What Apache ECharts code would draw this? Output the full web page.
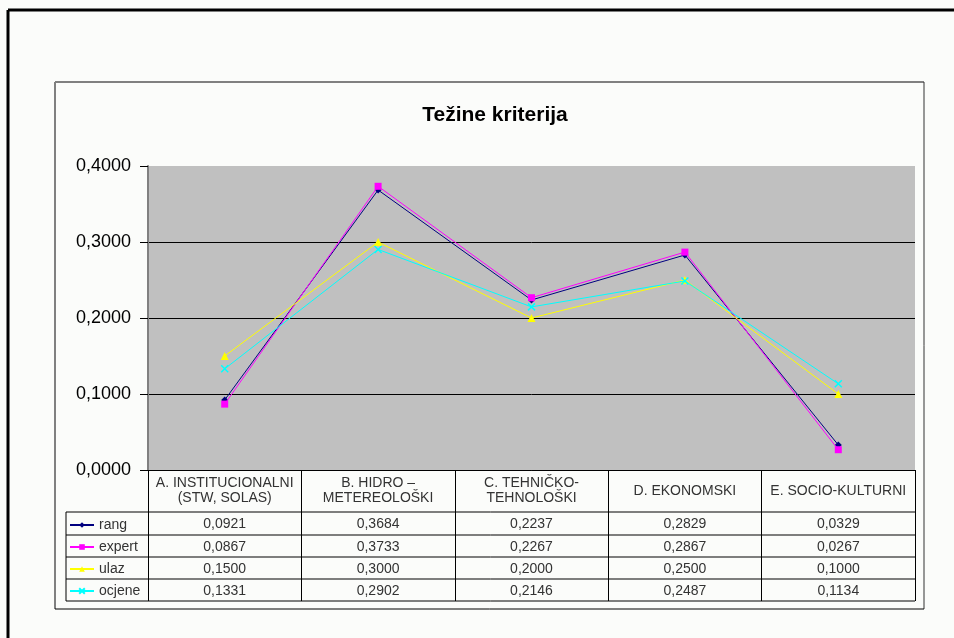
<!DOCTYPE html>
<html>
<head>
<meta charset="utf-8">
<script src="https://cdn.jsdelivr.net/npm/echarts@6/dist/echarts.min.js"></script>
<style>
  html, body { margin: 0; padding: 0; background: #fbfcfa; }
  #chart { width: 954px; height: 638px; }
</style>
</head>
<body>
<div id="chart"></div>
<script>
// kategorije (zaglavlje tablice)
const categories = [
  "A. INSTITUCIONALNI\n(STW, SOLAS)",
  "B. HIDRO –\nMETEREOLOŠKI",
  "C. TEHNIČKO-\nTEHNOLOŠKI",
  "D. EKONOMSKI",
  "E. SOCIO-KULTURNI"
];
const seriesNames = ["rang", "expert", "ulaz", "ocjene"];
const rang = [0.0921, 0.3684, 0.2237, 0.2829, 0.0329];
const expert = [0.0867, 0.3733, 0.2267, 0.2867, 0.0267];
const ulaz = [0.1500, 0.3000, 0.2000, 0.2500, 0.1000];
const ocjene = [0.1331, 0.2902, 0.2146, 0.2487, 0.1134];
const yTicks = [0, 0.1, 0.2, 0.3, 0.4];

const values = [rang, expert, ulaz, ocjene];
const colors = ["#000080", "#ff00ff", "#ffff00", "#00ffff"];
const symbols = ["diamond", "rect", "triangle", "path://M0,0L10,10M10,0L0,10"];
const symbolSizes = [7, 7, 8, 7];

// zarez kao decimalni separator
function fmt(v) {
  return v.toFixed(4).replace(".", ",");
}

// geometrija
const G = { left: 148, top: 166, right: 915, bottom: 470 };
const rowTops = [512, 535, 557, 579, 601];
const keyLeft = 66;
const font = "Liberation Sans, Arial, sans-serif";

let chart = echarts.init(document.getElementById("chart"));

// osi za redove tablice (vrijednosti)
let rowAxes = values.map(function(arr, i) {
  let center = (rowTops[i] + rowTops[i + 1]) / 2;
  return {
    type: "category",
    gridIndex: 0,
    position: "bottom",
    offset: center - G.bottom + 1,
    data: arr.map(fmt),
    axisLine: { show: false },
    axisTick: { show: false },
    splitLine: { show: false },
    axisLabel: {
      interval: 0,
      margin: 0,
      verticalAlign: "middle",
      color: "#333",
      fontSize: 14,
      fontFamily: font
    }
  };
});

// linije tablice
let tableLines = [];
for (let i = 0; i < rowTops.length; i++) {
  tableLines.push({
    type: "line",
    shape: { x1: keyLeft, y1: rowTops[i], x2: G.right, y2: rowTops[i] },
    style: { stroke: "#000", lineWidth: 1 },
    z: 10
  });
}
tableLines.push({
  type: "line",
  shape: { x1: keyLeft, y1: rowTops[0], x2: keyLeft, y2: rowTops[rowTops.length - 1] },
  style: { stroke: "#000", lineWidth: 1 },
  z: 10
});

let option = {
  backgroundColor: "#fbfcfa",
  animation: false,
  title: {
    text: "Težine kriterija",
    left: 490,
    top: 100,
    textAlign: "center",
    textStyle: {
      fontSize: 21,
      fontWeight: "bold",
      color: "#000",
      fontFamily: font
    }
  },
  legend: {
    orient: "vertical",
    left: 64,
    top: 513,
    itemWidth: 24,
    itemHeight: 7,
    itemGap: 8,
    data: seriesNames,
    textStyle: { fontSize: 14, color: "#333", fontFamily: font, lineHeight: 14 }
  },
  grid: {
    left: G.left,
    top: G.top,
    right: 954 - G.right,
    bottom: 638 - G.bottom,
    show: true,
    backgroundColor: "#c0c0c0",
    borderWidth: 0
  },
  xAxis: [
    {
      type: "category",
      data: categories,
      boundaryGap: true,
      axisLine: { show: true, lineStyle: { color: "#000", width: 1 } },
      axisTick: {
        show: true,
        interval: 0,
        length: rowTops[rowTops.length - 1] - G.bottom,
        lineStyle: { color: "#000", width: 1 }
      },
      axisLabel: {
        interval: 0,
        margin: 21,
        verticalAlign: "middle",
        lineHeight: 15,
        color: "#333",
        fontSize: 14,
        fontFamily: font
      },
      splitLine: { show: false }
    }
  ].concat(rowAxes),
  yAxis: {
    type: "value",
    min: yTicks[0],
    max: yTicks[yTicks.length - 1],
    interval: 0.1,
    axisLine: { show: true, lineStyle: { color: "#808080", width: 2 } },
    axisTick: { show: true, length: 8, lineStyle: { color: "#000" } },
    axisLabel: {
      formatter: fmt,
      margin: 17,
      fontSize: 18,
      color: "#000",
      fontFamily: font
    },
    splitLine: { show: true, showMaxLine: false, lineStyle: { color: "#000", width: 1 } }
  },
  series: values.map(function(arr, i) {
    return {
      name: seriesNames[i],
      type: "line",
      data: arr,
      symbol: symbols[i],
      symbolSize: symbolSizes[i],
      lineStyle: { color: colors[i], width: 1 },
      itemStyle: {
        color: colors[i],
        borderColor: colors[i],
        borderWidth: i === 3 ? 1.5 : 0
      },
      z: 3 + i
    };
  }),
  graphic: [
    // vanjski okvir
    { type: "line", shape: { x1: 8, y1: 10, x2: 954, y2: 10 }, style: { stroke: "#000", lineWidth: 3 } },
    { type: "line", shape: { x1: 8, y1: 10, x2: 8, y2: 638 }, style: { stroke: "#000", lineWidth: 3 } },
    // okvir grafa
    { type: "line", shape: { x1: 55, y1: 82, x2: 924, y2: 82 }, style: { stroke: "#808080", lineWidth: 2 } },
    { type: "line", shape: { x1: 55, y1: 82, x2: 55, y2: 609 }, style: { stroke: "#808080", lineWidth: 2 } },
    { type: "line", shape: { x1: 924, y1: 82, x2: 924, y2: 609 }, style: { stroke: "#333", lineWidth: 1 } },
    { type: "line", shape: { x1: 55, y1: 609, x2: 924, y2: 609 }, style: { stroke: "#000", lineWidth: 1 } }
  ].concat(tableLines)
};

chart.setOption(option);
</script>
</body>
</html>
